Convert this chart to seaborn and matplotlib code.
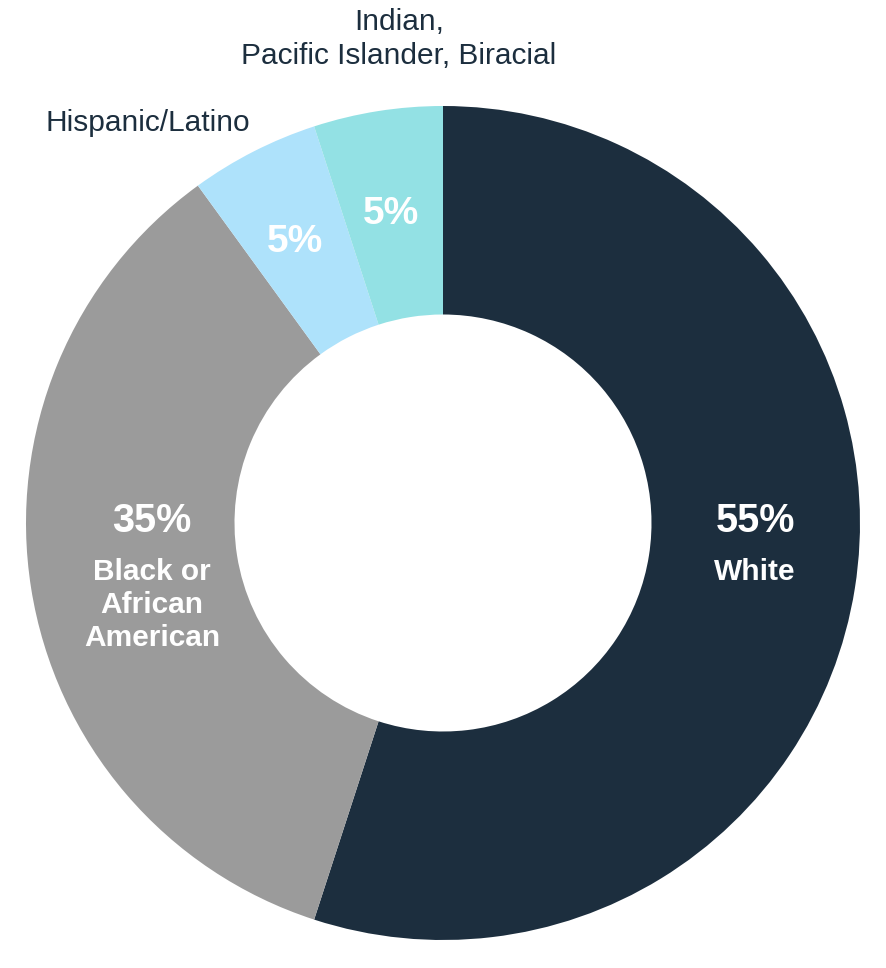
import matplotlib
matplotlib.use("Agg")
import matplotlib.pyplot as plt
import seaborn as sns

sns.set_theme(style="white")
plt.rcParams['font.family'] = ['Liberation Sans', 'DejaVu Sans']

categories = ["White", "Black or\nAfrican\nAmerican", "Hispanic/Latino", "Indian,\nPacific Islander, Biracial"]
values = [55, 35, 5, 5]
colors = ["#1c2e3e", "#9b9b9b", "#aee2fb", "#93e1e4"]
navy = "#1c2e3e"

fig = plt.figure(figsize=(8.87, 9.68), dpi=100)
cx, cy = 443 / 887, 1 - 523 / 968
rw, rh = 417 / 887, 417 / 968
ax = fig.add_axes([cx - rw, cy - rh, 2 * rw, 2 * rh])

wedges, _ = ax.pie(values, colors=colors, startangle=90, counterclock=False,
                   radius=1.0, wedgeprops=dict(width=0.5, edgecolor="none"))
ax.set_xlim(-1, 1)
ax.set_ylim(-1, 1)
ax.set_aspect("equal")
ax.axis("off")

def px(x, y):
    return ((x - 443) / 417, (523 - y) / 417)

# inside labels
x, y = px(755, 521)
ax.text(x, y, f"{values[0]}%", color="white", fontsize=28.5, fontweight="bold", ha="center", va="center")
x, y = px(755, 572)
ax.text(x, y, categories[0], color="white", fontsize=21.5, fontweight="bold", ha="center", va="center")

x, y = px(152, 521)
ax.text(x, y, f"{values[1]}%", color="white", fontsize=28.5, fontweight="bold", ha="center", va="center")
x, y = px(152, 605)
ax.text(x, y, categories[1], color="white", fontsize=21.5, fontweight="bold", ha="center", va="center",
        linespacing=1.22)

x, y = px(295, 242)
ax.text(x, y, f"{values[2]}%", color="white", fontsize=28, fontweight="bold", ha="center", va="center")
x, y = px(391, 214)
ax.text(x, y, f"{values[3]}%", color="white", fontsize=28, fontweight="bold", ha="center", va="center")

# outside labels
x, y = px(148, 123)
ax.text(x, y, categories[2], color=navy, fontsize=21.5, ha="center", va="center")
x, y = px(399, 39)
ax.text(x, y, categories[3], color=navy, fontsize=21.5, ha="center", va="center", linespacing=1.25)

fig.savefig("out.png", dpi=100, facecolor="white")
